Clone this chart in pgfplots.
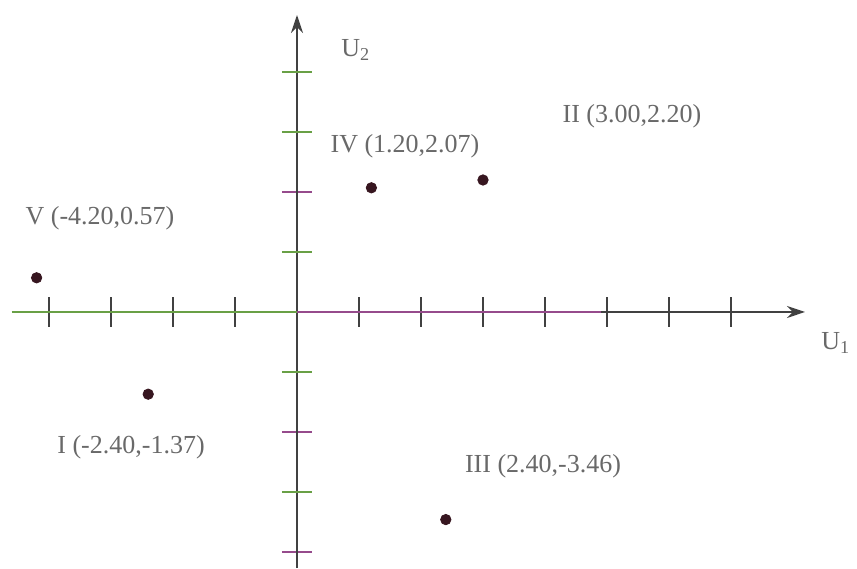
\documentclass[border=0pt]{standalone}
\usepackage{pgfplots}
\pgfplotsset{compat=1.18}
\usepackage{fontspec}
\setmainfont{Liberation Serif}
\usetikzlibrary{arrows.meta}
\definecolor{axisgreen}{RGB}{105,160,70}
\definecolor{axispurple}{RGB}{150,75,140}
\definecolor{axisgray}{RGB}{65,65,65}
\definecolor{labelgray}{RGB}{105,105,105}
\definecolor{dotcolor}{RGB}{55,22,32}

\begin{document}
\begin{tikzpicture}
\begin{axis}[
    scale only axis,
    width=396.5pt, height=276.5pt,
    xmin=-4.597, xmax=8.194,
    ymin=-4.267, ymax=4.95,
    axis lines=middle,
    axis line style={draw=axisgray, line width=0.8pt},
    x axis line style={-{Stealth[length=9pt,width=6pt]}},
    y axis line style={-{Stealth[length=9pt,width=6pt]}},
    xtick={-4,-3,-2,-1,1,2,3,4,5,6,7},
    xticklabels={},
    ytick={2,-2,-4},
    yticklabels={},
    extra y ticks={4,3,1,-1,-3},
    extra y tick labels={},
    tick align=center,
    major tick length=15pt,
    x tick style={draw=axisgray, line width=0.8pt},
    y tick style={draw=axispurple, line width=0.8pt},
    extra y tick style={y tick style={draw=axisgreen}},
    clip=false,
]
% coloured stretches of the U1 axis
\addplot[draw=axisgreen, line width=0.8pt, no marks] coordinates {(-4.597,0) (0,0)};
\addplot[draw=axispurple, line width=0.8pt, no marks] coordinates {(0,0) (4.9,0)};

% the five points
\addplot[only marks, mark=*, mark size=2.6pt, color=dotcolor]
    coordinates {(-2.40,-1.37) (3.00,2.20) (2.40,-3.46) (1.20,2.07) (-4.20,0.57)};

\begin{scope}[every node/.style={font=\fontsize{13}{15}\selectfont, color=labelgray}]
\node at (axis cs:-3.177,1.567) {V (-4.20,0.57)};
\node at (axis cs:-2.677,-2.25) {I (-2.40,-1.37)};
\node at (axis cs:5.403,3.267) {II (3.00,2.20)};
\node at (axis cs:1.742,2.767) {IV (1.20,2.07)};
\node at (axis cs:3.968,-2.567) {III (2.40,-3.46)};
\node[anchor=west, inner sep=0pt] at (axis cs:0.71,4.367) {U\textsubscript{2}};
\node[anchor=east, inner sep=0pt] at (axis cs:8.93,-0.517) {U\textsubscript{1}};
\end{scope}
\end{axis}
\pgfresetboundingbox
\path ([xshift=-6pt]current axis.south west) rectangle ([xshift=26pt,yshift=7.5pt]current axis.north east);
\end{tikzpicture}
\end{document}
